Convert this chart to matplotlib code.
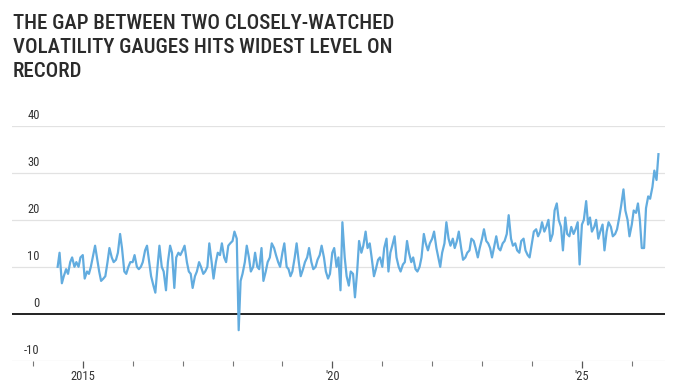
import numpy as np
import pandas as pd
import matplotlib
matplotlib.use("Agg")
import matplotlib.pyplot as plt
import matplotlib.dates as mdates
from matplotlib.transforms import ScaledTranslation

plt.rcParams["font.family"] = ["Roboto Condensed", "DejaVu Sans Condensed",
                               "Liberation Sans Narrow", "Roboto", "DejaVu Sans"]

# ── Data: gap between the two volatility gauges, semi-monthly readings ───────
start_date = "2014-07-01"
gap_2014 = [10, 13, 6.5, 8, 9.5, 8.5, 11, 12, 10, 11, 10, 12]
gap_2015 = [12.5, 7.5, 9, 8.5, 10, 12, 14.5, 12, 9, 7, 7.5, 8,
            11, 14, 12, 11, 11.5, 13, 17, 14, 9, 8.5, 10, 11]
gap_2016 = [11, 12.5, 10, 9.5, 10, 11, 13.5, 14.5, 11, 8, 6, 4.5,
            10, 14.5, 10, 9, 5, 11, 14.5, 13, 5.5, 12, 13, 12.5]
gap_2017 = [13.5, 14.5, 11, 9, 8.5, 5.5, 8, 9, 11, 10, 8.5, 9,
            10, 15, 11, 7.5, 11, 13, 12.5, 15, 12, 11, 14.5, 15]
gap_2018 = [15.5, 17.5, 16, -3.5, 7, 8.5, 11, 14.5, 12, 9, 10, 13,
            10, 9.5, 14, 7, 9, 11, 12, 15, 14, 12.5, 11, 10]
gap_2019 = [13, 15, 10, 9.5, 8, 9, 12, 15, 11, 8, 9.5, 11,
            12, 14, 11, 9.5, 10, 11.5, 12.5, 14.5, 12, 9, 7.5, 8.5]
gap_2020 = [13, 14, 10, 12, 5, 19.5, 12, 8, 6, 9, 8.5, 3.5,
            9, 15.5, 13, 14.5, 17.5, 14, 15, 12, 8, 9.5, 11.5, 12]
gap_2021 = [10, 14, 16, 9, 13, 14.5, 16.5, 12, 10, 9, 10.5, 11,
            15.5, 13, 11, 12, 9.5, 9, 10, 12, 17, 15, 13.5, 15]
gap_2022 = [16, 17.5, 14, 12, 10, 13, 15, 19.5, 16, 14.5, 16, 14,
            15.5, 17.5, 14, 11.5, 12, 13, 13.5, 16, 15.5, 14, 12, 14]
gap_2023 = [16, 18, 15.5, 15, 14, 12, 14.5, 16.5, 14, 13.5, 15, 15.5,
            17, 21, 16, 14.5, 15, 13.5, 13, 15.5, 16, 13.5, 12.5, 12]
gap_2024 = [15, 17.5, 18, 16.5, 17.5, 19.5, 17.5, 18.5, 20, 15.5, 17, 22,
            23.5, 20, 18.5, 13.5, 20.5, 17, 16.5, 18.5, 17, 18, 19.5, 10.5]
gap_2025 = [19, 20, 24, 19, 20.5, 17.5, 18.5, 20, 16, 17.5, 19, 13.5,
            17.5, 19.5, 18.5, 16.5, 17, 18, 20.5, 23, 26.5, 22, 20, 16.5]
gap_2026 = [19, 22, 21.5, 23.5, 20, 14, 14, 22.5, 25, 24.5, 27, 30.5, 28.5, 34]

gap = (gap_2014 + gap_2015 + gap_2016 + gap_2017 + gap_2018 + gap_2019 +
       gap_2020 + gap_2021 + gap_2022 + gap_2023 + gap_2024 + gap_2025 + gap_2026)
dates = pd.date_range(start_date, periods=len(gap), freq="SMS")

y_ticks = [-10, 0, 10, 20, 30, 40]
x_major = ["2015-01-01", "2020-01-01", "2025-01-01"]
x_major_labels = ["2015", "'20", "'25"]

title = ("THE GAP BETWEEN TWO CLOSELY-WATCHED\n"
         "VOLATILITY GAUGES HITS WIDEST LEVEL ON\n"
         "RECORD")

# ── Figure ────────────────────────────────────────────────────────────────────
W, H = 680, 382
fig = plt.figure(figsize=(W / 100, H / 100), dpi=100, facecolor="white")
ax = fig.add_axes([12 / W, 1 - 360.7 / H, (665 - 12) / W, (360.7 - 126) / H])

ax.plot(dates, gap, color="#62acdf", linewidth=1.6, solid_joinstyle="round", zorder=3)

ax.set_ylim(-10, 40)
ax.set_xlim(pd.Timestamp("2013-08-01"), pd.Timestamp("2026-09-01"))

# gridlines, zero line in black
for v in y_ticks:
    if v == 0:
        ax.axhline(v, color="#111111", linewidth=1.3, zorder=2)
    else:
        ax.axhline(v, color="#e2e2e2", linewidth=0.9, zorder=1)

for s in ax.spines.values():
    s.set_visible(False)

# y labels sit just above their gridlines, inside the plot
ax.set_yticks(y_ticks)
ax.set_yticklabels([str(v) for v in y_ticks])
ax.tick_params(axis="y", length=0, pad=-20, labelsize=9, labelcolor="#333333")
offset = ScaledTranslation(0, 3 / 72, fig.dpi_scale_trans)
for lab in ax.get_yticklabels():
    lab.set_horizontalalignment("right")
    lab.set_verticalalignment("bottom")
    lab.set_transform(lab.get_transform() + offset)

# x ticks: every year, labels every five years
ax.set_xticks(pd.to_datetime(x_major))
ax.set_xticklabels(x_major_labels)
ax.xaxis.set_minor_locator(mdates.YearLocator(1))
ax.tick_params(axis="x", which="major", length=5, width=0.9, color="#555555",
               pad=1.5, labelsize=9, labelcolor="#333333")
ax.tick_params(axis="x", which="minor", length=3.5, width=0.8, color="#777777")

fig.text(13 / W, 1 - 14 / H, title, ha="left", va="top", fontsize=15,
         fontweight="medium", color="#2b2b2b", linespacing=1.32)

fig.savefig("out.png", dpi=100, facecolor="white")
